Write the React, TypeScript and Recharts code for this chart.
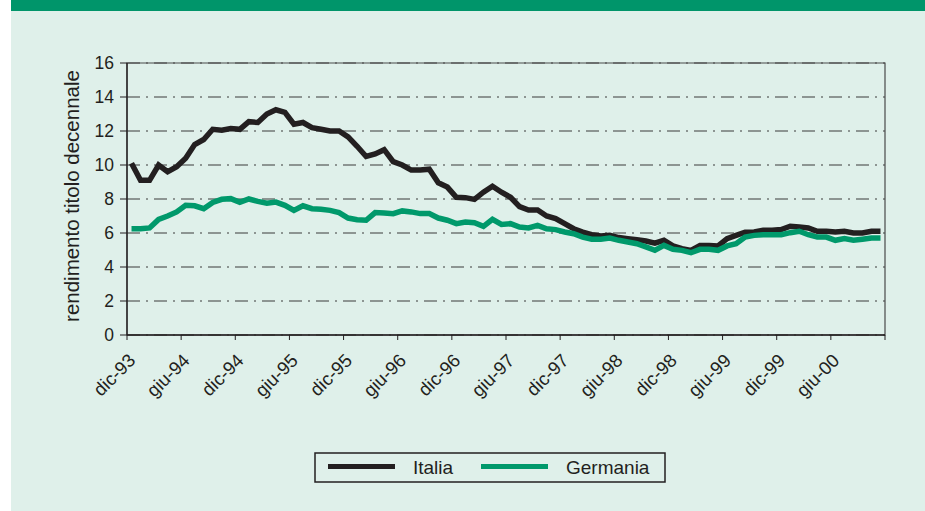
import React from 'react';
import {
    LineChart,
    Line,
    XAxis,
    YAxis,
    CartesianGrid,
    ReferenceArea,
    Legend,
} from 'recharts';

// monthly yields, dic-93 .. nov-00
const ITALIA = [
    10.1, 9.1, 9.1, 10.0, 9.6, 9.9, 10.4, 11.2, 11.5, 12.1,
    12.05, 12.15, 12.1, 12.55, 12.5, 13.0, 13.25, 13.1, 12.4, 12.5,
    12.2, 12.1, 12.0, 12.0, 11.65, 11.1, 10.5, 10.65, 10.9, 10.2,
    10.0, 9.7, 9.7, 9.75, 8.95, 8.7, 8.1, 8.08, 7.98, 8.4,
    8.75, 8.4, 8.1, 7.55, 7.35, 7.35, 7.0, 6.85, 6.55, 6.25,
    6.05, 5.9, 5.82, 5.86, 5.73, 5.67, 5.6, 5.53, 5.4, 5.57,
    5.24, 5.08, 4.98, 5.27, 5.27, 5.24, 5.67, 5.86, 6.05, 6.06,
    6.16, 6.16, 6.2, 6.4, 6.35, 6.3, 6.1, 6.1, 6.06, 6.1,
    6.0, 6.0, 6.1, 6.1,
];

const GERMANIA = [
    6.25, 6.25, 6.3, 6.8, 7.0, 7.24, 7.63, 7.6, 7.43, 7.8,
    7.98, 8.02, 7.8, 8.0, 7.86, 7.75, 7.82, 7.63, 7.33, 7.6,
    7.43, 7.4, 7.33, 7.2, 6.88, 6.78, 6.75, 7.2, 7.18, 7.14,
    7.3, 7.24, 7.14, 7.14, 6.88, 6.75, 6.55, 6.65, 6.6, 6.39,
    6.8, 6.5, 6.55, 6.35, 6.3, 6.45, 6.25, 6.2, 6.06, 5.96,
    5.76, 5.63, 5.63, 5.7, 5.57, 5.47, 5.37, 5.18, 4.98, 5.27,
    5.04, 4.98, 4.84, 5.04, 5.04, 4.98, 5.24, 5.37, 5.76, 5.86,
    5.9, 5.9, 5.9, 6.02, 6.1, 5.9, 5.76, 5.76, 5.57, 5.67,
    5.57, 5.63, 5.7, 5.7,
];

// one label every 6 months, on the boundaries between months
const X_LABELS = [
    'dic-93', 'giu-94', 'dic-94', 'giu-95', 'dic-95', 'giu-96', 'dic-96',
    'giu-97', 'dic-97', 'giu-98', 'dic-98', 'giu-99', 'dic-99', 'giu-00', '',
];
const Y_TICKS = [0, 2, 4, 6, 8, 10, 12, 14, 16];

const SERIES = [
    { key: 'italia', name: 'Italia', color: '#231f20' },
    { key: 'germania', name: 'Germania', color: '#00996b' },
];

const MONTHS = ITALIA.length;
const X_TICKS = X_LABELS.map((_, i) => i * 6);

// each month sits in the middle of its band
const data = ITALIA.map((v, i) => ({ x: i + 0.5, italia: v, germania: GERMANIA[i] }));

const INK = '#231f20';
const FONT = '"Liberation Sans", Arial, sans-serif';

function XTick({ x, y, payload }: any) {
    const label = X_LABELS[Math.round(payload.value / 6)];
    const tx = x + 5;
    const ty = y + 15;
    return (
        <text
            x={tx}
            y={ty}
            textAnchor="end"
            dominantBaseline="central"
            fontSize={18.5}
            fill={INK}
            fontFamily={FONT}
            transform={`rotate(-45, ${tx}, ${ty})`}
        >
            {label}
        </text>
    );
}

function YTitle({ viewBox }: any) {
    const cx = viewBox.x + 4.5;
    const cy = viewBox.y + viewBox.height / 2 - 3;
    return (
        <text
            x={cx}
            y={cy}
            textAnchor="middle"
            dominantBaseline="central"
            fontSize={20.5}
            fill={INK}
            fontFamily={FONT}
            transform={`rotate(-90, ${cx}, ${cy})`}
        >
            rendimento titolo decennale
        </text>
    );
}

function LegendBox() {
    return (
        <svg width={352} height={31} style={{ display: 'block' }}>
            <rect x={1} y={1} width={350} height={29} fill="none" stroke={INK} strokeWidth={1.5} />
            {SERIES.map((s, i) => (
                <g key={s.key} transform={`translate(${i * 153}, 0)`}>
                    <line x1={14} y1={14.5} x2={81} y2={14.5} stroke={s.color} strokeWidth={5} />
                    <text x={99} y={22} fontSize={19} fill={INK} fontFamily={FONT}>
                        {s.name}
                    </text>
                </g>
            ))}
        </svg>
    );
}

export default function App() {
    return (
        <div
            style={{
                position: 'absolute',
                left: 0,
                top: 0,
                width: 925,
                height: 511,
                background: '#fff',
                fontFamily: FONT,
            }}
        >
            <div style={{ position: 'absolute', left: 11, top: 0, right: 0, bottom: 0, background: '#dff0ea' }} />
            <div style={{ position: 'absolute', left: 11, top: 0, right: 0, height: 11, background: '#00956a' }} />
            <div style={{ position: 'absolute', left: 0, top: 0 }}>
                <LineChart
                    width={925}
                    height={511}
                    data={data}
                    margin={{ top: 63, right: 40, left: 67, bottom: 146 }}
                >
                    <CartesianGrid
                        vertical={false}
                        stroke="#3a3a3a"
                        strokeDasharray="13 6 2 6"
                    />
                    <ReferenceArea
                        x1={0}
                        x2={MONTHS}
                        y1={0}
                        y2={16}
                        fill="none"
                        stroke="#4a4a4a"
                        strokeWidth={1.2}
                    />
                    <XAxis
                        type="number"
                        dataKey="x"
                        domain={[0, MONTHS]}
                        ticks={X_TICKS}
                        interval={0}
                        height={30}
                        tick={<XTick />}
                        tickSize={5}
                        tickLine={{ stroke: INK }}
                        axisLine={{ stroke: INK, strokeWidth: 1.3 }}
                    />
                    <YAxis
                        type="number"
                        domain={[0, 16]}
                        ticks={Y_TICKS}
                        interval={0}
                        width={60}
                        tickSize={7}
                        tickMargin={6}
                        tick={{ fontSize: 17.5, fill: INK, fontFamily: FONT }}
                        tickLine={{ stroke: INK }}
                        axisLine={{ stroke: INK, strokeWidth: 1.3 }}
                        label={(props: any) => <YTitle {...props} />}
                    />
                    {SERIES.map((s) => (
                        <Line
                            key={s.key}
                            type="linear"
                            dataKey={s.key}
                            name={s.name}
                            stroke={s.color}
                            strokeWidth={5.5}
                            dot={false}
                            isAnimationActive={false}
                        />
                    ))}
                    <Legend
                        layout="horizontal"
                        verticalAlign="middle"
                        align="center"
                        content={() => <LegendBox />}
                        wrapperStyle={{ left: 314, top: 452, width: 352, height: 31 }}
                    />
                </LineChart>
            </div>
        </div>
    );
}
